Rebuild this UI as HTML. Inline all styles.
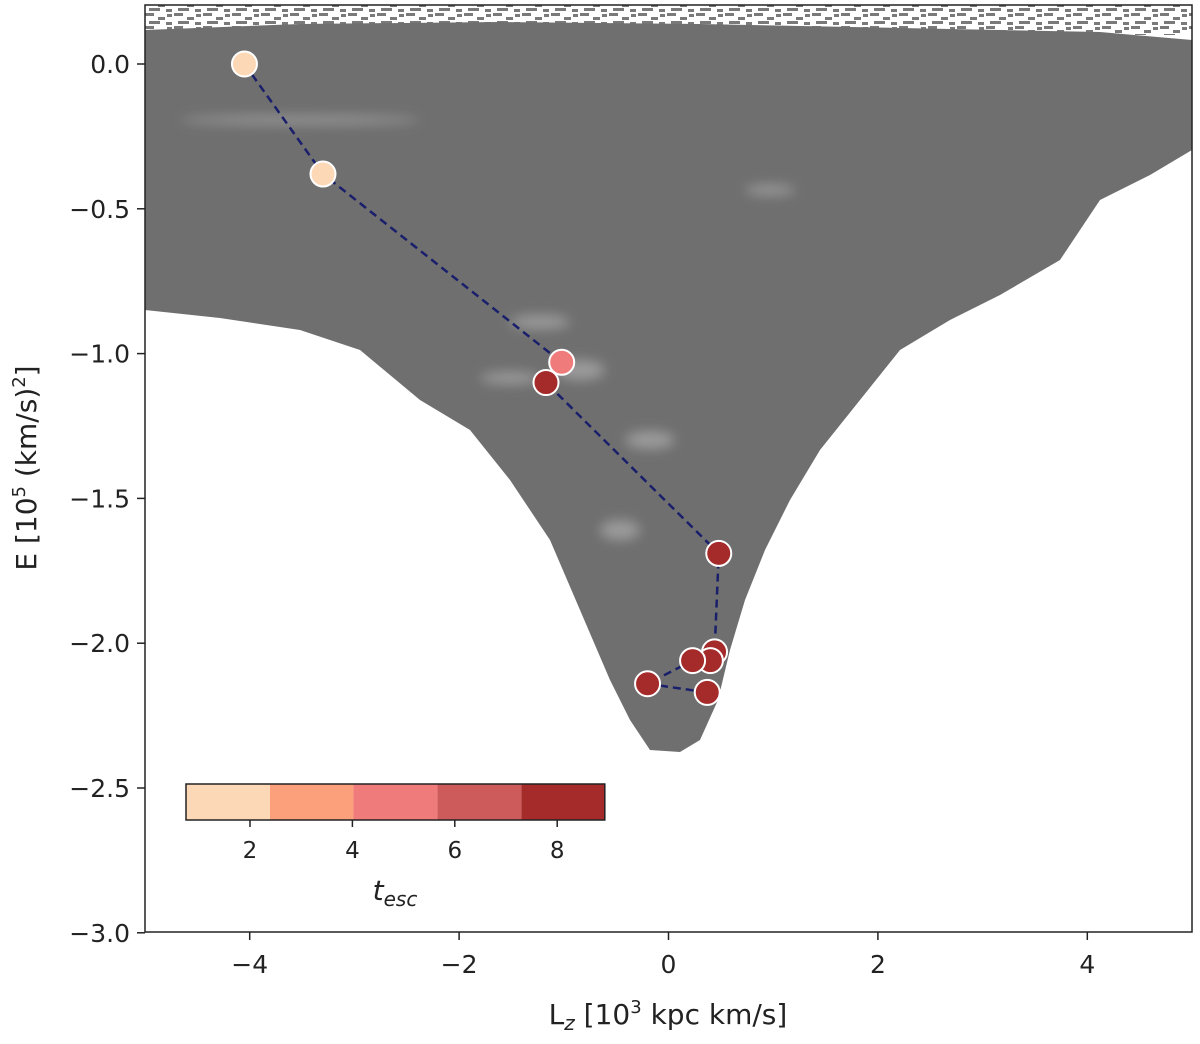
<!DOCTYPE html>
<html><head><meta charset="utf-8"><style>
body{margin:0;background:#fff}
svg text{font-family:"DejaVu Sans","Liberation Sans",sans-serif;fill:#222}
</style></head><body>
<svg id="chart" width="1200" height="1039" viewBox="0 0 1200 1039" xmlns="http://www.w3.org/2000/svg">
<defs>
<clipPath id="clip"><rect x="145" y="5" width="1047" height="927"/></clipPath>
<filter id="blur"><feGaussianBlur stdDeviation="6"/></filter>
<pattern id="speck" width="29" height="13" patternUnits="userSpaceOnUse">
<rect width="29" height="13" fill="#ffffff"/>
<rect x="0" y="0" width="9" height="3" fill="#7a7a7a"/>
<rect x="13" y="4" width="7" height="3" fill="#7a7a7a"/>
<rect x="4" y="8" width="11" height="3" fill="#7a7a7a"/>
<rect x="21" y="9" width="6" height="3" fill="#7a7a7a"/>
<rect x="22" y="1" width="5" height="3" fill="#7a7a7a"/>
</pattern>
</defs>
<g clip-path="url(#clip)">
<rect x="145" y="5" width="1047" height="30" fill="url(#speck)"/>
<polygon fill="#6f6f6f" points="145,30 300,24 500,22 700,24 900,28 1100,32 1192,40 1192,150 1150,175 1100,200 1060,260 1000,295 950,320 900,350 860,400 820,450 790,500 765,550 745,600 730,650 718,700 700,740 680,752 650,750 630,720 610,680 580,610 550,540 510,480 470,430 420,400 360,350 300,330 220,318 145,310"/>
<g filter="url(#blur)" opacity="0.5" fill="#c8c8c8">
<ellipse cx="540" cy="322" rx="30" ry="7"/>
<ellipse cx="510" cy="378" rx="30" ry="6"/>
<ellipse cx="580" cy="370" rx="25" ry="10"/>
<ellipse cx="650" cy="440" rx="25" ry="9"/>
<ellipse cx="620" cy="530" rx="20" ry="10"/>
<ellipse cx="770" cy="190" rx="25" ry="5"/>
<ellipse cx="300" cy="120" rx="120" ry="4"/>
</g>
</g>
<g id="axes"></g>
<g id="marks"></g>
<g id="cbar"></g>
<rect x="145" y="5" width="1047" height="927" fill="none" stroke="#222" stroke-width="1.5"/>
<text x="668" y="1024" text-anchor="middle" font-size="28">L<tspan font-style="italic" font-size="20" dy="6">z</tspan><tspan dy="-6"> [10</tspan><tspan font-size="18" dy="-11">3</tspan><tspan dy="11"> kpc km/s]</tspan></text>
<text transform="translate(36,468) rotate(-90)" text-anchor="middle" font-size="28">E [10<tspan font-size="18" dy="-11">5</tspan><tspan dy="11"> (km/s)</tspan><tspan font-size="18" dy="-11">2</tspan><tspan dy="11">]</tspan></text>
</svg>
<script>
const lz=[-4.05,-3.3,-1.02,-1.17,0.48,0.44,0.40,0.23,-0.2,0.37];
const energy=[0.0,-0.38,-1.03,-1.10,-1.69,-2.03,-2.06,-2.06,-2.14,-2.17];
const tesc=[1,1,5,9,9,9,9,9,9,9];
const xTicks=[-4,-2,0,2,4];
const yTicks=[0.0,-0.5,-1.0,-1.5,-2.0,-2.5,-3.0];
const cbTicks=[2,4,6,8];
const cbBins=[0.75,2.39,4.02,5.66,7.30,8.93];
const cbColors=['#fdd8b7','#fca07c','#ef7b7b','#cd5b5b','#a52a2a'];
const NS='http://www.w3.org/2000/svg';
const X=v=>668.5+v*104.7;
const Y=v=>64-v*289.6;
const C=v=>250+(v-2)*51.2;
function mk(t,a,p){const e=document.createElementNS(NS,t);for(const k in a)e.setAttribute(k,a[k]);p.appendChild(e);return e;}
const axes=document.getElementById('axes');
xTicks.forEach(v=>{
 const l=mk('line',{x1:X(v),x2:X(v),y1:932,y2:940,stroke:'#222','stroke-width':1.5},axes);
 
 
 const t=mk('text',{x:X(v),y:973,'text-anchor':'middle','font-size':25},axes);
 
 
 t.textContent=v<0?'−'+Math.abs(v):String(v);
});
yTicks.forEach(v=>{
 const l=mk('line',{x1:137,x2:145,y1:Y(v),y2:Y(v),stroke:'#222','stroke-width':1.5},axes);
 
 
 const t=mk('text',{x:130,y:Y(v)+9,'text-anchor':'end','font-size':25},axes);
 
 
 t.textContent=(v<0?'−':'')+Math.abs(v).toFixed(1);
});
const marks=document.getElementById('marks');
function col(t){for(let i=0;i<cbColors.length;i++){if(t<cbBins[i+1])return cbColors[i];}return cbColors[cbColors.length-1];}
const path=mk('polyline',{points:lz.map((v,i)=>X(v)+','+Y(energy[i])).join(' '),fill:'none',stroke:'#1a1f6b','stroke-width':2.5,'stroke-dasharray':'8,5'},marks);


lz.forEach((v,i)=>{
 const c=mk('circle',{cx:X(v),cy:Y(energy[i]),r:12.5,fill:col(tesc[i]),stroke:'#fff','stroke-width':2},marks);
 
 
});
const cb=document.getElementById('cbar');
cbColors.forEach((c,i)=>{
 const r=mk('rect',{x:C(cbBins[i]),y:784,width:C(cbBins[i+1])-C(cbBins[i]),height:36,fill:c},cb);
 
 
});
const fr=mk('rect',{x:C(cbBins[0]),y:784,width:C(cbBins[5])-C(cbBins[0]),height:36,fill:'none',stroke:'#222','stroke-width':1.5},cb);


cbTicks.forEach(v=>{
 const l=mk('line',{x1:C(v),x2:C(v),y1:820,y2:827,stroke:'#222','stroke-width':1.5},cb);
 
 
 const t=mk('text',{x:C(v),y:858,'text-anchor':'middle','font-size':23},cb);
 
 
 t.textContent=v;
});
const lab=mk('text',{x:395,y:900,'text-anchor':'middle','font-size':28,'font-style':'italic'},cb);


lab.innerHTML='t<tspan font-size="20" dy="6">esc</tspan>';
</script>
</body></html>
